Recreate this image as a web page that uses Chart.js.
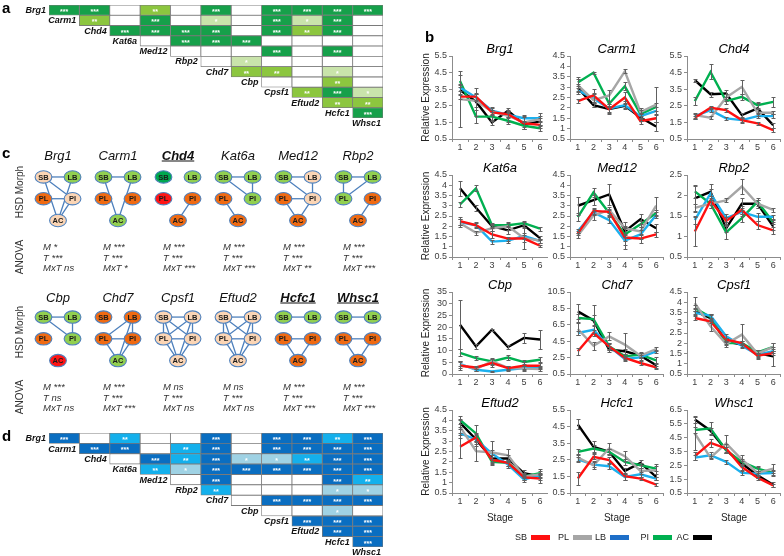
<!DOCTYPE html>
<html><head><meta charset="utf-8">
<script src="https://cdn.jsdelivr.net/npm/chart.js"></script>
<style>
html,body{margin:0;padding:0;background:#fff;}
body{width:784px;height:556px;position:relative;overflow:hidden;font-family:"Liberation Sans",Arial,sans-serif;}
canvas{position:absolute;}
.t{position:absolute;white-space:nowrap;line-height:1;}
</style></head><body>
<script>
// ---------------- DATA ----------------
const stages = ['1','2','3','4','5','6'];
const groups = ['SB','PL','LB','PI','AC'];
const panelBGenes = ['Brg1','Carm1','Chd4','Kat6a','Med12','Rbp2','Cbp','Chd7','Cpsf1','Eftud2','Hcfc1','Whsc1'];

const brg1  = {SB:[3.05,3.05,2.1,2.0,1.45,1.35], PL:[2.9,2.8,2.15,1.9,1.5,1.7], LB:[3.6,3.0,2.2,1.95,1.75,1.75], PI:[4.0,1.85,1.85,1.6,1.3,1.15], AC:[3.45,2.75,1.5,2.2,1.4,1.55]};
const carm1 = {SB:[2.32,2.6,1.94,2.5,1.36,1.5], PL:[3.1,2.37,2.6,3.76,1.8,2.16], LB:[2.85,2.45,1.97,2.13,1.6,1.86], PI:[3.22,3.7,2.2,3.04,1.7,2.05], AC:[2.96,2.13,1.94,2.1,1.54,1.1]};
const chd4  = {SB:[1.78,2.38,2.24,1.64,1.44,1.04], PL:[1.94,1.78,3.0,3.64,2.08,2.08], LB:[1.88,2.24,1.74,1.64,1.88,1.88], PI:[2.78,4.54,2.78,3.04,2.54,2.74], AC:[4.04,3.2,3.24,1.94,2.34,1.34]};
const kat6a = {SB:[2.25,2.05,1.6,1.4,1.4,1.05], PL:[2.15,1.68,1.9,2.0,1.42,1.3], LB:[2.2,2.05,1.25,1.3,1.52,1.28], PI:[3.06,3.85,2.05,2.05,2.15,1.88], AC:[3.85,2.9,2.0,1.8,2.05,1.42]};
const med12 = {SB:[1.65,2.75,2.7,1.45,1.4,1.6], PL:[1.55,2.52,2.8,1.9,1.75,3.0], LB:[1.75,2.68,2.3,1.3,1.6,2.55], PI:[2.45,3.65,2.65,1.6,2.1,2.65], AC:[3.0,3.27,3.55,1.75,2.35,1.9]};
const rbp2  = {SB:[1.12,1.88,1.38,1.65,1.28,1.15], PL:[1.7,1.8,1.88,2.22,1.8,1.65], LB:[1.4,2.05,1.45,1.6,1.48,1.48], PI:[2.1,1.8,1.1,1.45,1.85,1.35], AC:[1.93,2.09,1.2,1.8,1.8,1.25]};
const cbp   = {SB:[3.5,2.8,4.7,2.5,3.5,3.5], PL:[4.0,2.1,5.4,2.6,2.3,2.1], LB:[4.3,1.8,1.1,1.8,2.5,2.8], PI:[9.0,6.8,5.4,7.0,5.1,6.1], AC:[21.0,11.8,18.9,11.5,15.4,14.7]};
const chd7  = {SB:[3.27,5.5,3.87,2.45,1.84,1.31], PL:[5.99,3.95,5.09,4.08,2.74,3.55], LB:[5.5,5.9,3.87,2.33,2.53,3.26], PI:[7.33,7.2,3.87,2.65,2.86,2.17], AC:[8.14,7.04,3.47,3.27,2.74,1.56]};
const cpsf1 = {SB:[3.23,3.07,2.17,2.01,1.39,1.52], PL:[3.96,2.83,1.96,2.42,1.49,1.82], LB:[3.48,3.35,2.34,1.88,1.44,1.61], PI:[3.72,3.28,2.01,2.01,1.56,1.82], AC:[3.56,3.23,2.09,1.93,1.52,1.36]};
const eftud2= {SB:[2.73,3.18,2.1,1.95,1.25,1.2], PL:[3.7,2.52,2.45,2.32,1.3,1.4], LB:[3.37,3.08,2.4,1.87,1.15,1.35], PI:[4.02,3.37,2.0,1.95,1.3,1.45], AC:[3.89,3.08,2.16,2.16,1.45,1.3]};
const hcfc1 = {SB:[1.37,2.68,2.48,1.51,1.37,1.0], PL:[2.64,2.17,3.18,2.72,1.83,1.87], LB:[2.52,2.21,2.11,1.47,1.63,1.37], PI:[2.98,3.18,2.98,2.37,2.17,1.97], AC:[4.63,3.28,2.98,1.83,2.31,1.47]};
const whsc1 = {SB:[3.16,4.13,3.72,2.38,1.61,1.05], PL:[4.8,3.06,4.08,2.92,1.95,2.26], LB:[3.06,3.23,2.75,1.95,1.9,1.95], PI:[5.05,5.17,3.6,2.75,2.26,1.95], AC:[5.82,5.0,3.6,2.63,1.78,1.1]};

const brg1Err  = {SB:[0.15,0.2,0.15,0.2,0.35,0.2], PL:[1.7,0.4,0.2,0.35,0.4,0.35], LB:[0.2,0.2,0.2,0.2,0.2,0.15], PI:[0.35,0.4,0.25,0.2,0.2,0.15], AC:[0.3,0.85,0.15,0.15,0.2,0.2]};
const carm1Err = {SB:[0.1,0.3,0.15,0.25,0.15,0.2], PL:[0.3,0.35,0.25,0.1,0.2,0.85], LB:[0.2,0.2,0.2,0.2,0.15,0.2], PI:[0.25,0.05,0.15,0.2,0.2,0.2], AC:[0.2,0.1,0.25,0.1,0.15,0.2]};
const chd4Err  = {SB:[0.1,0.1,0.1,0.2,0.1,0.1], PL:[0.15,0.1,0.2,0.4,0.2,0.1], LB:[0.15,0.1,0.1,0.1,0.1,0.1], PI:[0.25,0.45,0.15,0.2,0.2,0.3], AC:[0.1,0.15,0.2,0.15,0.3,0.15]};
const kat6aErr = {SB:[0.2,0.15,0.15,0.1,0.15,0.05], PL:[0.2,0.1,0.15,0.2,0.55,0.1], LB:[0.15,0.1,0.1,0.1,0.15,0.1], PI:[0.1,0.15,0.1,0.1,0.1,0.1], AC:[0.35,0.15,0.1,0.2,0.15,0.1]};
const med12Err = {SB:[0.1,0.15,0.15,0.55,0.2,0.1], PL:[0.1,0.2,0.15,0.3,0.2,0.45], LB:[0.1,0.15,0.15,0.2,0.2,0.15], PI:[0.2,0.2,0.15,0.3,0.15,0.15], AC:[0.45,0.25,0.5,0.2,0.25,0.2]};
const rbp2Err  = {SB:[0.35,0.1,0.1,0.1,0.1,0.08], PL:[0.1,0.1,0.05,0.18,0.1,0.05], LB:[0.1,0.1,0.1,0.1,0.1,0.05], PI:[0.15,0.1,0.15,0.1,0.1,0.05], AC:[0.3,0.2,0.1,0.15,0.1,0.1]};
const cbpErr   = {SB:[2,0.8,1.5,0.8,1.5,1], PL:[1.5,0.8,1.5,1,1,1], LB:[1,0.5,0.3,0.5,0.8,0.8], PI:[1.5,1,1,1,1,1], AC:[10.5,1,0.5,0.8,2.2,4]};
const chd7Err  = {SB:[0.4,0.4,0.4,0.3,0.3,0.2], PL:[0.7,0.5,0.5,1.4,0.3,0.3], LB:[0.3,0.4,0.3,0.3,0.3,0.2], PI:[0.5,1.7,0.4,0.3,0.3,0.4], AC:[0.9,0.6,0.3,0.3,0.3,0.3]};
const cpsf1Err = {SB:[0.1,0.1,0.1,0.1,0.15,0.1], PL:[0.3,0.25,0.15,0.5,0.2,0.2], LB:[0.1,0.1,0.1,0.1,0.1,0.1], PI:[0.15,0.15,0.1,0.1,0.1,0.2], AC:[0.15,0.15,0.15,0.1,0.15,0.45]};
const eftud2Err= {SB:[0.55,0.15,0.15,0.15,0.1,0.2], PL:[0.3,0.5,0.55,0.3,0.15,0.25], LB:[0.2,0.2,0.15,0.15,0.1,0.1], PI:[0.2,0.4,0.15,0.15,0.1,0.1], AC:[0.2,0.3,0.15,0.15,0.15,0.1]};
const hcfc1Err = {SB:[0.4,0.15,0.2,0.2,0.1,0.08], PL:[0.2,0.25,0.35,0.3,0.2,0.4], LB:[0.15,0.15,0.15,0.2,0.15,0.1], PI:[0.2,0.2,0.15,0.2,0.15,0.15], AC:[0.3,0.35,0.2,0.2,0.15,0.2]};
const whsc1Err = {SB:[0.3,0.3,0.3,0.2,0.2,0.1], PL:[1.2,0.1,0.6,0.35,0.4,0.35], LB:[0.2,0.2,0.15,0.15,0.2,0.15], PI:[0.2,0.45,0.2,0.2,0.2,0.2], AC:[0.25,0.2,0.2,0.2,0.2,0.2]};

const panelBValues = [brg1,carm1,chd4,kat6a,med12,rbp2,cbp,chd7,cpsf1,eftud2,hcfc1,whsc1];
const panelBErrors = [brg1Err,carm1Err,chd4Err,kat6aErr,med12Err,rbp2Err,cbpErr,chd7Err,cpsf1Err,eftud2Err,hcfc1Err,whsc1Err];
const yMin  = [0.5,0.5,0.5,0.5,0.5,0.5,0,0.5,0.5,0.5,0.5,0.5];
const yMax  = [5.5,4.5,5.5,4.5,4.5,2.5,35,10.5,4.5,4.5,5.5,6.5];
const yStep = [1,0.5,1,0.5,0.5,0.5,5,2,0.5,0.5,1,1];

// panels a & d: significance levels (0 none, 1 *, 2 **, 3 ***), row r vs column genes r+1..11
const matrixGenes = ['Brg1','Carm1','Chd4','Kat6a','Med12','Rbp2','Chd7','Cbp','Cpsf1','Eftud2','Hcfc1','Whsc1'];
const sigA = [
  [3,3,0,2,0,3,0,3,3,3,3],
  [2,0,3,0,1,0,3,1,3,0],
  [3,3,3,3,0,3,2,3,0],
  [0,3,3,3,0,0,0,0],
  [0,0,0,3,0,3,0],
  [0,1,0,0,0,0],
  [2,2,0,1,0],
  [0,0,2,0],
  [2,3,1],
  [2,2],
  [3]
];
const sigD = [
  [3,0,2,0,0,3,0,3,3,2,3],
  [3,3,0,2,3,0,3,3,3,3],
  [0,3,2,3,1,1,2,3,3],
  [2,1,3,3,3,3,3,3],
  [0,3,0,0,0,3,2],
  [2,0,0,0,1,1],
  [0,3,3,3,3],
  [0,0,1,0],
  [3,3,3],
  [3,3],
  [3]
];

// panel c: networks
const netGenes = ['Brg1','Carm1','Chd4','Kat6a','Med12','Rbp2','Cbp','Chd7','Cpsf1','Eftud2','Hcfc1','Whsc1'];
const netEmph  = ['Chd4','Hcfc1','Whsc1'];
const nodeNames = ['SB','LB','PL','PI','AC'];
// P peach, G green, O orange, R red, D dark green  (order SB LB PL PI AC)
const netColors = ['PGOPP','GGOOG','DGROO','GGOGO','GPOPO','GGGOO','GGOGR','OOOOG','PPPPP','PPPPP','GGOOO','GGOOO'];
const ALL = 'SB-LB SB-PL SB-PI SB-AC LB-PL LB-PI LB-AC PL-PI PL-AC PI-AC';
const netEdges = [
  'SB-LB SB-PI SB-AC LB-AC PL-PI PI-AC',
  'SB-LB SB-AC LB-AC',
  'PI-AC',
  'SB-LB SB-PI LB-PI PL-AC',
  'SB-LB SB-PI LB-PI PL-PI PL-AC PI-AC',
  'SB-LB SB-PL LB-PL PI-AC',
  'SB-LB SB-PI LB-PI',
  'LB-PL LB-PI LB-AC PL-PI PL-AC PI-AC',
  ALL,
  ALL,
  'SB-LB PL-PI PL-AC PI-AC',
  'SB-LB PL-PI PL-AC PI-AC'
];
const anovaM   = ['*','***','***','***','***','***','***','***','ns','ns','***','***'];
const anovaT   = ['***','***','***','***','***','***','ns','***','***','***','***','***'];
const anovaMxT = ['ns','*','***','***','**','***','ns','***','ns','ns','***','***'];

// ---------------- STYLE / LAYOUT ----------------
const FONT = '"Liberation Sans", Arial, sans-serif';
Chart.defaults.font.family = FONT;
const seriesColors = ['#ff1010','#a6a6a6','#1cb0ee','#00b050','#000000'];
const legendColors = ['#ff1010','#a6a6a6','#1e6fc8','#00b050','#000000'];
const nodeFill = {P:'#fbd5b5', G:'#92d050', O:'#f06a12', R:'#ff1414', D:'#00a84f'};
const paletteA = ['#ffffff','#c9e4ab','#8cc63f','#16a04a'];
const paletteD = ['#ffffff','#9fd2e4','#14b0ec','#0a6ec1'];

function addCanvas(left, top, w, h){
  const c = document.createElement('canvas');
  c.width = w; c.height = h;
  c.style.left = left+'px'; c.style.top = top+'px';
  c.style.width = w+'px'; c.style.height = h+'px';
  document.body.appendChild(c);
  return c;
}
function addText(str, x, y, css, mode){
  const d = document.createElement('div');
  d.className = 't';
  d.textContent = str;
  d.style.cssText += css;
  d.style.left = x+'px'; d.style.top = y+'px';
  if (mode === 'center') d.style.transform = 'translate(-50%,-50%)';
  else if (mode === 'rot') d.style.transform = 'translate(-50%,-50%) rotate(-90deg)';
  else if (mode === 'right') d.style.transform = 'translate(-100%,-50%)';
  else d.style.transform = 'translate(0,-50%)';
  document.body.appendChild(d);
  return d;
}

// ---------------- PANEL B ----------------
const errorBars = {
  id:'errorBars',
  afterDatasetsDraw(chart){
    const ctx = chart.ctx, ys = chart.scales.y;
    ctx.save();
    ctx.strokeStyle = '#606060'; ctx.lineWidth = 1;
    chart.data.datasets.forEach((ds,i)=>{
      const meta = chart.getDatasetMeta(i);
      meta.data.forEach((pt,j)=>{
        const v = ds.data[j], e = ds.errors[j];
        if (!e) return;
        const x = Math.round(pt.x)+0.5;
        const y1 = Math.round(ys.getPixelForValue(v+e))+0.5, y2 = Math.round(ys.getPixelForValue(v-e))+0.5;
        ctx.beginPath();
        ctx.moveTo(x,y1); ctx.lineTo(x,y2);
        ctx.moveTo(x-2,y1); ctx.lineTo(x+2,y1);
        ctx.moveTo(x-2,y2); ctx.lineTo(x+2,y2);
        ctx.stroke();
      });
    });
    ctx.restore();
  }
};
const PLOT_L=[452,570,687], PLOT_R=[548,664,781];
const PLOT_T=[56,175,292,410], PLOT_B=[139,257,374,493];
function fmt(v){ return String(Number(v.toFixed(2))); }

panelBGenes.forEach((gene, idx)=>{
  const col = idx%3, row = Math.floor(idx/3);
  const yw = col===0 ? 32 : 24;
  const xh = row===3 ? 31 : 12;
  const th = 13;
  const left = PLOT_L[col]-yw, top = PLOT_T[row]-th;
  const w = PLOT_R[col]-left, h = PLOT_B[row]+xh-top;
  const cv = addCanvas(left, top, w, h);
  const vals = panelBValues[idx], errs = panelBErrors[idx];
  new Chart(cv, {
    type:'line',
    data:{labels:stages, datasets: groups.map((g,i)=>({label:g, data:vals[g], errors:errs[g], borderColor:seriesColors[i], backgroundColor:seriesColors[i], borderWidth:2.4, pointRadius:0, tension:0, fill:false}))},
    options:{
      responsive:false, animation:false, devicePixelRatio:1, events:[],
      layout:{padding:0, autoPadding:false},
      plugins:{
        legend:{display:false}, tooltip:{enabled:false},
        title:{display:true, text:gene, color:'#000', fullSize:false, padding:0, font:{size:13, style:'italic', weight:'normal', lineHeight:1}}
      },
      scales:{
        x:{type:'category', offset:true,
           grid:{display:true, drawOnChartArea:false, drawTicks:true, tickLength:3, offset:true, color:'#8c8c8c'},
           border:{display:true, color:'#8c8c8c'},
           ticks:{font:{size:9}, color:'#404040', padding:0, maxRotation:0, autoSkip:false},
           title:{display:row===3, text:'Stage', color:'#222', font:{size:10}, padding:0},
           afterFit:(s)=>{ s.height = xh; }},
        y:{type:'linear', min:yMin[idx], max:yMax[idx],
           ticks:{stepSize:yStep[idx], font:{size:9, lineHeight:1}, color:'#404040', padding:2, autoSkip:false, maxTicksLimit:20, callback:(v)=>fmt(v)},
           grid:{drawOnChartArea:false, drawTicks:true, tickLength:3, color:'#8c8c8c'},
           border:{display:true, color:'#8c8c8c'},
           title:{display:col===0, text:'Relative Expression', color:'#222', font:{size:10}, padding:0},
           afterFit:(s)=>{ s.width = yw; }}
      }
    },
    plugins:[errorBars]
  });
});

// legend (text before swatch)
const legendSwatchX = [531,573,610,653,693];
groups.forEach((g,i)=>{
  addText(g, legendSwatchX[i]-4, 537, 'font-size:9px;color:#222;', 'right');
  const s = document.createElement('div');
  s.style.cssText = 'position:absolute;height:5px;width:19px;top:535px;left:'+legendSwatchX[i]+'px;background:'+legendColors[i]+';';
  document.body.appendChild(s);
});

// ---------------- PANELS A & D ----------------
const matrixText = {
  id:'matrixText',
  afterDatasetsDraw(chart){
    const ctx = chart.ctx, xs = chart.scales.x, ys = chart.scales.y;
    ctx.save();
    ctx.fillStyle = '#ffffff';
    ctx.font = 'bold 7px '+FONT;
    ctx.textAlign = 'center'; ctx.textBaseline = 'middle';
    chart.data.datasets.forEach((ds,c)=>{
      chart.getDatasetMeta(c).data.forEach((el,r)=>{
        const L = ds.levels[r];
        if (L>0) ctx.fillText('*'.repeat(L), (el.x+el.base)/2, el.y+2);
      });
    });
    ctx.fillStyle = '#111';
    ctx.font = 'italic bold 9px '+FONT;
    ctx.textAlign = 'right';
    const y0 = ys.getPixelForValue(0), rowH = ys.getPixelForValue(1)-y0;
    matrixGenes.forEach((g,k)=>{
      const x = k<=10 ? xs.getPixelForValue(k)-3 : xs.getPixelForValue(11)-2;
      ctx.fillText(g, x, y0+k*rowH+0.5);
    });
    ctx.restore();
  }
};
function matrixChart(top, height, padTop, padBottom, sig, palette){
  const cv = addCanvas(0, top, 395, height);
  const rows = matrixGenes.slice(0,11);
  const datasets = [];
  for (let c=0;c<11;c++){
    const data=[], bg=[], lv=[];
    for (let r=0;r<11;r++){
      if (c>=r){ const L = sig[r][c-r]; data.push([c,c+1]); bg.push(palette[L]); lv.push(L); }
      else { data.push(null); bg.push('rgba(0,0,0,0)'); lv.push(-1); }
    }
    datasets.push({data, backgroundColor:bg, borderColor:'#7a7a7a', borderWidth:0.8, borderSkipped:false, grouped:false, barPercentage:1, categoryPercentage:1, levels:lv});
  }
  new Chart(cv, {
    type:'bar',
    data:{labels:rows, datasets},
    options:{
      indexAxis:'y', responsive:false, animation:false, devicePixelRatio:1, events:[],
      layout:{padding:{left:49, right:12, top:padTop, bottom:padBottom}, autoPadding:false},
      plugins:{legend:{display:false}, tooltip:{enabled:false}},
      scales:{x:{type:'linear', min:0, max:11, display:false}, y:{type:'category', display:false, offset:true}}
    },
    plugins:[matrixText]
  });
}
matrixChart(0, 132, 5, 14, sigA, paletteA);
matrixChart(428, 128, 5, 9, sigD, paletteD);

// ---------------- PANEL C ----------------
const NODE_DX = [-1,1,-1,1,0], NODE_LV = [0,0,1,1,2];
const NET_HALF = 0.242, NET_ROW = 6.44;
function nodeXY(gi, n){
  const c = gi%6, R = Math.floor(gi/6);
  return {x: c + NODE_DX[n]*NET_HALF, y: R*NET_ROW + NODE_LV[n]};
}
const netDatasets = [];
netGenes.forEach((g,gi)=>{
  netEdges[gi].split(' ').forEach(e=>{
    const [a,b] = e.split('-');
    netDatasets.push({type:'line', data:[nodeXY(gi,nodeNames.indexOf(a)), nodeXY(gi,nodeNames.indexOf(b))], borderColor:'#4f81bd', borderWidth:1.3, pointRadius:0, showLine:true, fill:false});
  });
});
const nodePts = [], nodeCols = [], nodeLabs = [];
netGenes.forEach((g,gi)=>{
  nodeNames.forEach((n,ni)=>{ nodePts.push(nodeXY(gi,ni)); nodeCols.push(nodeFill[netColors[gi][ni]]); nodeLabs.push(n); });
});
netDatasets.push({type:'scatter', data:nodePts, pointRadius:0, nodeColors:nodeCols, nodeLabels:nodeLabs});
const nodeDraw = {
  id:'nodeDraw',
  afterDatasetsDraw(chart){
    const ctx = chart.ctx;
    const di = chart.data.datasets.length-1;
    const ds = chart.data.datasets[di];
    ctx.save();
    chart.getDatasetMeta(di).data.forEach((el,i)=>{
      ctx.beginPath();
      ctx.ellipse(el.x, el.y, 8.4, 6.2, 0, 0, Math.PI*2);
      ctx.fillStyle = ds.nodeColors[i]; ctx.fill();
      ctx.lineWidth = 1.1; ctx.strokeStyle = '#4f81bd'; ctx.stroke();
      ctx.fillStyle = '#1a1a1a';
      ctx.font = 'bold 7.5px '+FONT;
      ctx.textAlign = 'center'; ctx.textBaseline = 'middle';
      ctx.fillText(ds.nodeLabels[i], el.x, el.y+0.5);
    });
    ctx.restore();
  }
};
const cvC = addCanvas(0, 160, 400, 215);
new Chart(cvC, {
  type:'scatter',
  data:{datasets:netDatasets},
  options:{
    responsive:false, animation:false, devicePixelRatio:1, events:[],
    layout:{padding:0, autoPadding:false},
    plugins:{legend:{display:false}, tooltip:{enabled:false}},
    scales:{
      x:{type:'linear', min:-0.9667, max:5.7, display:false},
      y:{type:'linear', min:-0.78, max:9.103, reverse:true, display:false}
    }
  },
  plugins:[nodeDraw]
});

// panel c text
netGenes.forEach((g,gi)=>{
  const c = gi%6, R = Math.floor(gi/6);
  const cx = 58 + 60*c;
  const ty = R===0 ? 155 : 297;
  const emph = netEmph.includes(g);
  addText(g, cx, ty, 'font-size:13px;font-style:italic;color:#111;'+(emph?'font-weight:bold;text-decoration:underline;':''), 'center');
  const ay = R===0 ? 247 : 387;
  const css = 'font-size:9.5px;font-style:italic;color:#333;';
  addText('M '+anovaM[gi], 43+60*c, ay, css);
  addText('T '+anovaT[gi], 43+60*c, ay+10.5, css);
  addText('MxT '+anovaMxT[gi], 43+60*c, ay+21, css);
});
[192,332].forEach(y=>addText('HSD Morph', 20, y, 'font-size:10px;color:#333;', 'rot'));
[257,397].forEach(y=>addText('ANOVA', 20, y, 'font-size:10px;color:#333;', 'rot'));

// panel letters
addText('a', 2, 7, 'font-size:15px;font-weight:bold;color:#000;');
addText('b', 425, 36, 'font-size:15px;font-weight:bold;color:#000;');
addText('c', 2, 152, 'font-size:15px;font-weight:bold;color:#000;');
addText('d', 2, 435, 'font-size:15px;font-weight:bold;color:#000;');
</script>
</body></html>
